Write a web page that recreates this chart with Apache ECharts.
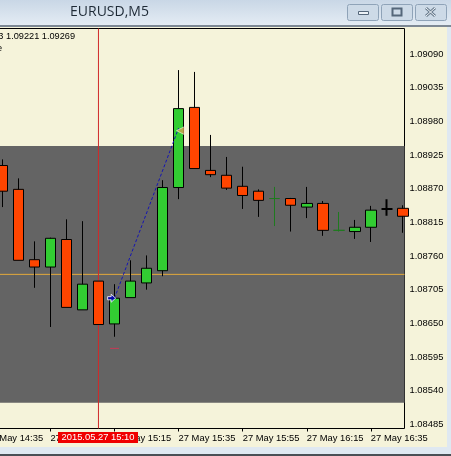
<!DOCTYPE html>
<html>
<head>
<meta charset="utf-8">
<style>html,body{margin:0;padding:0;background:#f5f3da;overflow:hidden}#c{width:451px;height:456px}</style>
<script src="https://cdn.jsdelivr.net/npm/echarts@6/dist/echarts.min.js"></script>
</head>
<body>
<div id="c"></div>
<script>
const times = ['14:40','14:45','14:50','14:55','15:00','15:05','15:10','15:15','15:20','15:25','15:30','15:35','15:40','15:45','15:50','15:55','16:00','16:05','16:10','16:15','16:20','16:25','16:30','16:35','16:40','16:45'];
const opens  = [1.08908,1.08869,1.08754,1.08742,1.08787,1.08672,1.08719,1.08649,1.08692,1.08716,1.08736,1.08872,1.09003,1.08900,1.08892,1.08874,1.08866,1.08854,1.08854,1.08840,1.08846,1.08802,1.08800,1.08807,1.08837,1.08838];
const closes = [1.08866,1.08753,1.08742,1.08789,1.08676,1.08714,1.08648,1.08691,1.08719,1.08740,1.08872,1.09001,1.08903,1.08893,1.08871,1.08859,1.08851,1.08854,1.08843,1.08846,1.08802,1.08802,1.08807,1.08835,1.08837,1.08825];
const lows   = [1.08840,1.08753,1.08708,1.08644,1.08676,1.08672,1.08648,1.08628,1.08692,1.08705,1.08727,1.08853,1.08903,1.08889,1.08868,1.08837,1.08824,1.08809,1.08800,1.08822,1.08793,1.08800,1.08788,1.08783,1.08826,1.08798];
const highs  = [1.08918,1.08887,1.08784,1.08790,1.08820,1.08817,1.08719,1.08714,1.08753,1.08761,1.08884,1.09064,1.09061,1.08958,1.08922,1.08906,1.08869,1.08873,1.08855,1.08873,1.08850,1.08832,1.08819,1.08842,1.08853,1.08843];
const priceTicks = [1.09090,1.09035,1.08980,1.08925,1.08870,1.08815,1.08760,1.08705,1.08650,1.08595,1.08540,1.08485];
const timeTicks = ['14:35','14:55','15:15','15:35','15:55','16:15','16:35'];
const priceMin = 1.08478, priceMax = 1.09132;
const bandLow = 1.08520, bandHigh = 1.08940;
const hLine = 1.08730;
const cursorTime = '15:10';
const cursorLabel = '2015.05.27 15:10';
const tradeOpen = ['15:15', 1.08691];
const tradeClose = ['15:35', 1.08969];
const stopTime = '15:15', stopPrice = 1.08609;
const infoText = '3 1.09221 1.09269';
const title = 'EURUSD,M5';

const timeMax = 130.5;
const toMin = t => { const [h, m] = t.split(':').map(Number); return (h - 14) * 60 + m - 35; };
const dojiStyle = {
  '16:05': { borderColor: '#1f7a1f', borderColor0: '#1f7a1f', borderColorDoji: '#1f7a1f', borderWidth: 1 },
  '16:25': { borderColor: '#1f7a1f', borderColor0: '#1f7a1f', borderColorDoji: '#1f7a1f', borderWidth: 1 },
  '16:40': { borderColor: '#000', borderColor0: '#000', borderColorDoji: '#000', borderWidth: 2 }
};
const candleData = times.map((t, i) => {
  const item = { value: [toMin(t), opens[i], closes[i], lows[i], highs[i]] };
  if (dojiStyle[t]) item.itemStyle = dojiStyle[t];
  return item;
});
const FONT = '"Liberation Sans",sans-serif';
const chart = echarts.init(document.getElementById('c'), null, { renderer: 'canvas' });
const btn = (x, w) => ({ type: 'rect', shape: { x: x + .5, y: 4.5, width: w, height: 16, r: 2 }, style: { fill: '#cddae7', stroke: '#8fa3b8', lineWidth: 1 }, z: 20 });
chart.setOption({
  animation: false,
  backgroundColor: '#f5f3da',
  grid: { left: -13.7, right: 46.5, top: 28.5, bottom: 27.5, show: true, borderColor: '#000', borderWidth: 1, backgroundColor: 'transparent', outerBoundsMode: 'none', containLabel: false },
  xAxis: {
    type: 'value', min: 0, max: timeMax, splitLine: { show: false },
    axisLine: { show: false },
    axisTick: { show: true, length: 3, lineStyle: { color: '#000' }, customValues: timeTicks.map(toMin) },
    axisLabel: { color: '#000', fontFamily: FONT, fontSize: 9.4, align: 'left', margin: 5, hideOverlap: false, showMinLabel: true, showMaxLabel: true,
      customValues: timeTicks.map(toMin),
      formatter: v => '27 May ' + timeTicks[timeTicks.map(toMin).indexOf(v)] }
  },
  yAxis: {
    type: 'value', position: 'right', min: priceMin, max: priceMax, scale: true, splitLine: { show: false },
    axisLine: { show: false },
    axisTick: { show: true, length: 3, lineStyle: { color: '#000' }, customValues: priceTicks },
    axisLabel: { color: '#000', fontFamily: FONT, fontSize: 9.4, margin: 5, customValues: priceTicks, formatter: v => v.toFixed(5) }
  },
  series: [
    { type: 'line', data: [], silent: true,
      markArea: { silent: true, z: 0, itemStyle: { color: '#646464' }, data: [[{ yAxis: bandHigh }, { yAxis: bandLow }]] } },
    { type: 'line', z: 1, silent: true, symbol: 'none', lineStyle: { color: '#e3a83a', width: 1 },
      data: [[0, hLine], [timeMax, hLine]] },
    { type: 'line', z: 1, silent: true, symbol: 'none', lineStyle: { color: '#d02a2a', width: 1 },
      data: [[toMin(cursorTime), priceMin], [toMin(cursorTime), priceMax]] },
    { type: 'candlestick', z: 3, barWidth: 11, encode: { x: 0, y: [1, 2, 3, 4] }, data: candleData,
      itemStyle: { color: '#32cd32', color0: '#ff4500', borderColor: '#000', borderColor0: '#000', borderColorDoji: '#000', borderWidth: 1 } },
    { type: 'line', z: 4, symbol: 'none', lineStyle: { color: '#1414b4', width: 1, type: [3, 2] },
      data: [[toMin(tradeOpen[0]), tradeOpen[1]], [toMin(tradeClose[0]), tradeClose[1]]] },
    { type: 'scatter', z: 5, symbol: 'path://M0 3H4V0L9 5L4 10V7H0Z', symbolSize: 8, itemStyle: { color: '#0000c8', borderColor: '#fff', borderWidth: 1 },
      data: [[toMin(tradeOpen[0]) - 0.9, tradeOpen[1]]] },
    { type: 'scatter', z: 5, symbol: 'triangle', symbolSize: 8, symbolRotate: 90, itemStyle: { color: '#d6a24e', borderColor: '#fff', borderWidth: 0.7 },
      data: [[toMin(tradeClose[0]) + 0.6, tradeClose[1] - 0.00004]] },
    { type: 'scatter', z: 5, symbol: 'rect', symbolSize: [9, 1], itemStyle: { color: '#e03050' },
      data: [[toMin(stopTime), stopPrice]] }
  ],
  graphic: [
    { type: 'rect', shape: { x: 0, y: 0, width: 451, height: 25 }, z: 15, style: { fill: new echarts.graphic.LinearGradient(0, 0, 0, 1, [{ offset: 0, color: '#c9d7e6' }, { offset: 1, color: '#e4ecf4' }]) } },
    { type: 'rect', shape: { x: 0, y: 25, width: 451, height: 2 }, z: 15, style: { fill: '#7d8894' } },
    { type: 'text', x: 70, y: 5, z: 21, style: { text: title, font: '14px "Open Sans",sans-serif', fill: '#1e2a36' } },
    btn(347, 31), btn(381, 31), btn(415, 31),
    { type: 'rect', shape: { x: 358.5, y: 11.5, width: 10, height: 3 }, z: 21, style: { fill: '#eef3f8', stroke: '#55677a' } },
    { type: 'rect', shape: { x: 392.5, y: 8.5, width: 9, height: 7 }, z: 21, style: { fill: 'none', stroke: '#55677a', lineWidth: 2 } },
    { type: 'line', shape: { x1: 426, y1: 8, x2: 435, y2: 16 }, z: 21, style: { stroke: '#6a7c8e', lineWidth: 3 } },
    { type: 'line', shape: { x1: 435, y1: 8, x2: 426, y2: 16 }, z: 21, style: { stroke: '#6a7c8e', lineWidth: 3 } },
    { type: 'line', shape: { x1: 426, y1: 8, x2: 435, y2: 16 }, z: 22, style: { stroke: '#f2f6fa', lineWidth: 1 } },
    { type: 'line', shape: { x1: 435, y1: 8, x2: 426, y2: 16 }, z: 22, style: { stroke: '#f2f6fa', lineWidth: 1 } },
    { type: 'text', x: 75, y: 31.5, z: 21, style: { text: infoText, font: '9.2px ' + FONT, fill: '#000', align: 'right' } },
    { type: 'text', x: -3, y: 44, z: 21, style: { text: 'e', font: '9.2px ' + FONT, fill: '#000' } },
    { type: 'rect', shape: { x: 58, y: 432, width: 80, height: 11 }, z: 21, style: { fill: '#f00000' } },
    { type: 'text', x: 98, y: 437.5, z: 22, style: { text: cursorLabel, font: '9.4px ' + FONT, fill: '#fff', align: 'center', verticalAlign: 'middle' } },
    { type: 'rect', shape: { x: 447, y: 0, width: 4, height: 456 }, z: 14, style: { fill: '#dfe8f1' } },
    { type: 'rect', shape: { x: 0, y: 447, width: 451, height: 7 }, z: 14, style: { fill: '#dfe8f1' } },
    { type: 'rect', shape: { x: 0, y: 454, width: 451, height: 2 }, z: 14, style: { fill: '#4a4f55' } }
  ]
});
</script>
</body>
</html>
